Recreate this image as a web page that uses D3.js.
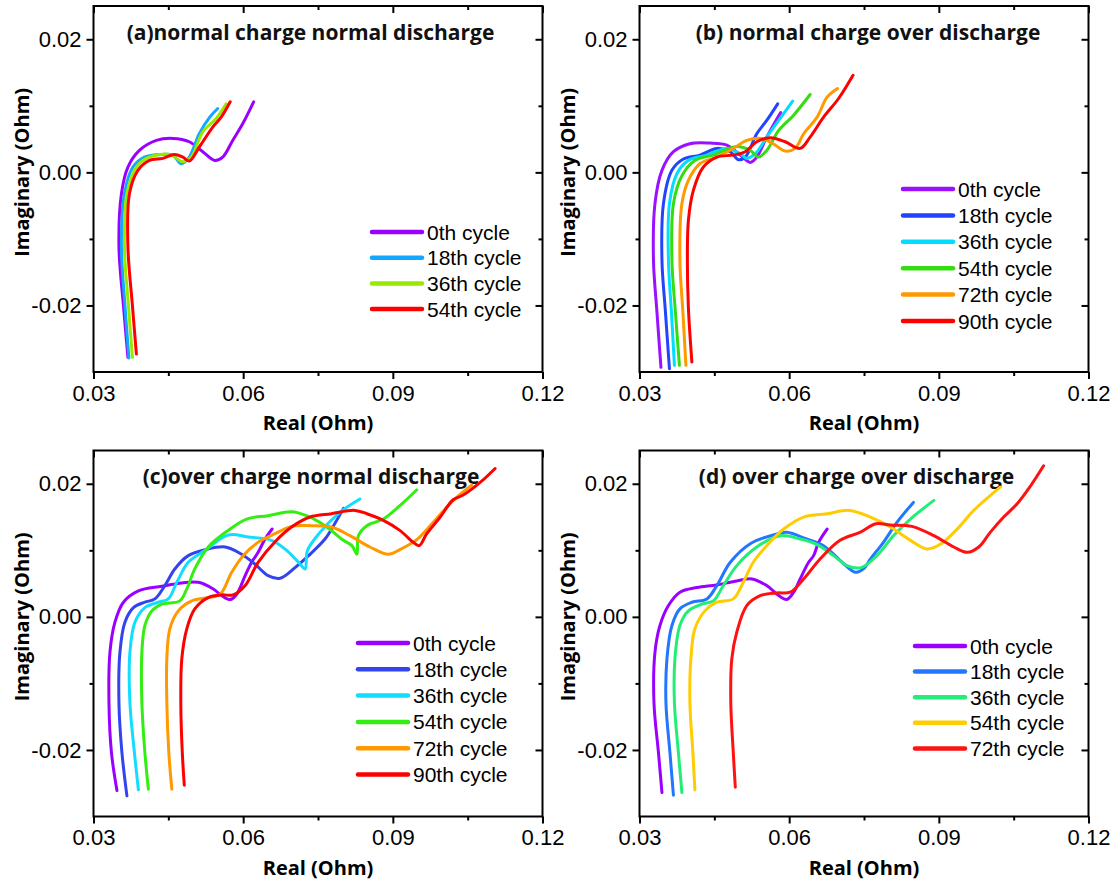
<!DOCTYPE html>
<html>
<head>
<meta charset="utf-8">
<script src="https://cdn.jsdelivr.net/npm/d3@7"></script>
<style>
  body { margin: 0; background: #fff; }
  svg { display: block; }
</style>
</head>
<body>
<div id="chartContainer"></div>
<script>
// axis ticks shared by all four panels
var xMajor = [0.03, 0.06, 0.09, 0.12];
var xMinor = [0.045, 0.075, 0.105];
var yMajor = [-0.02, 0.00, 0.02];
var yMinor = [-0.01, 0.01];
var xDomain = [0.03, 0.12];
var yDomain = [-0.03, 0.025];

// (a) normal charge normal discharge  [real, imaginary]
var aCycle0 = [[0.0369,-0.0278],[0.0360,-0.0200],[0.0351,-0.0112],[0.0356,-0.0032],[0.0369,0.0008],[0.0392,0.0033],[0.0426,0.0048],[0.0459,0.0051],[0.0492,0.0046],[0.0519,0.0031],[0.0543,0.0018],[0.0559,0.0023],[0.0579,0.0048],[0.0599,0.0073],[0.0621,0.0106]];
var aCycle18 = [[0.0371,-0.0279],[0.0363,-0.0200],[0.0356,-0.0112],[0.0362,-0.0032],[0.0379,0.0008],[0.0402,0.0023],[0.0439,0.0027],[0.0459,0.0026],[0.0476,0.0013],[0.0492,0.0023],[0.0512,0.0058],[0.0533,0.0083],[0.0549,0.0096]];
var aCycle36 = [[0.0378,-0.0278],[0.0370,-0.0200],[0.0362,-0.0112],[0.0367,-0.0032],[0.0386,0.0008],[0.0409,0.0022],[0.0452,0.0027],[0.0479,0.0016],[0.0496,0.0023],[0.0519,0.0061],[0.0546,0.0081],[0.0566,0.0103]];
var aCycle54 = [[0.0386,-0.0273],[0.0378,-0.0200],[0.0369,-0.0112],[0.0372,-0.0032],[0.0389,0.0003],[0.0412,0.0018],[0.0439,0.0021],[0.0462,0.0027],[0.0479,0.0023],[0.0492,0.0017],[0.0512,0.0038],[0.0539,0.0068],[0.0556,0.0083],[0.0574,0.0106]];

// (b) normal charge over discharge
var bCycle0 = [[0.0343,-0.0293],[0.0335,-0.0210],[0.0328,-0.0132],[0.0331,-0.0047],[0.0345,0.0003],[0.0368,0.0031],[0.0401,0.0043],[0.0441,0.0044],[0.0475,0.0041],[0.0502,0.0026],[0.0522,0.0015],[0.0535,0.0023],[0.0555,0.0053],[0.0575,0.0080],[0.0583,0.0090]];
var bCycle18 = [[0.0360,-0.0295],[0.0352,-0.0210],[0.0345,-0.0132],[0.0348,-0.0047],[0.0365,0.0003],[0.0388,0.0020],[0.0421,0.0026],[0.0455,0.0036],[0.0482,0.0031],[0.0498,0.0019],[0.0512,0.0023],[0.0535,0.0058],[0.0555,0.0078],[0.0577,0.0103]];
var bCycle36 = [[0.0370,-0.0290],[0.0364,-0.0210],[0.0358,-0.0132],[0.0360,-0.0047],[0.0375,-0.0002],[0.0398,0.0018],[0.0435,0.0026],[0.0475,0.0036],[0.0502,0.0028],[0.0515,0.0021],[0.0532,0.0028],[0.0555,0.0053],[0.0579,0.0078],[0.0607,0.0107]];
var bCycle54 = [[0.0380,-0.0290],[0.0372,-0.0210],[0.0365,-0.0132],[0.0368,-0.0047],[0.0385,-0.0005],[0.0411,0.0018],[0.0448,0.0026],[0.0495,0.0039],[0.0522,0.0033],[0.0538,0.0023],[0.0555,0.0033],[0.0579,0.0063],[0.0609,0.0086],[0.0642,0.0117]];
var bCycle72 = [[0.0393,-0.0290],[0.0387,-0.0210],[0.0381,-0.0132],[0.0385,-0.0047],[0.0398,-0.0012],[0.0421,0.0013],[0.0455,0.0023],[0.0488,0.0036],[0.0515,0.0048],[0.0545,0.0051],[0.0568,0.0043],[0.0592,0.0032],[0.0612,0.0036],[0.0629,0.0058],[0.0656,0.0083],[0.0676,0.0113],[0.0697,0.0126]];
var bCycle90 = [[0.0405,-0.0285],[0.0398,-0.0203],[0.0396,-0.0132],[0.0398,-0.0072],[0.0408,-0.0027],[0.0428,0.0008],[0.0455,0.0023],[0.0488,0.0026],[0.0512,0.0031],[0.0535,0.0046],[0.0562,0.0052],[0.0592,0.0046],[0.0622,0.0036],[0.0642,0.0053],[0.0669,0.0083],[0.0699,0.0111],[0.0728,0.0146]];

// (c) over charge normal discharge
var cCycle0 = [[0.0347,-0.0261],[0.0336,-0.0204],[0.0331,-0.0129],[0.0333,-0.0053],[0.0343,-0.0008],[0.0360,0.0022],[0.0390,0.0039],[0.0437,0.0046],[0.0477,0.0051],[0.0510,0.0052],[0.0540,0.0042],[0.0557,0.0032],[0.0574,0.0026],[0.0587,0.0034],[0.0604,0.0062],[0.0617,0.0082],[0.0630,0.0097],[0.0644,0.0117],[0.0658,0.0132]];
var cCycle18 = [[0.0367,-0.0269],[0.0357,-0.0204],[0.0351,-0.0129],[0.0353,-0.0053],[0.0363,-0.0008],[0.0380,0.0014],[0.0403,0.0022],[0.0423,0.0027],[0.0443,0.0047],[0.0463,0.0072],[0.0490,0.0092],[0.0524,0.0101],[0.0564,0.0105],[0.0597,0.0094],[0.0624,0.0079],[0.0650,0.0062],[0.0674,0.0058],[0.0704,0.0074],[0.0731,0.0092],[0.0764,0.0117],[0.0782,0.0138],[0.0801,0.0163]];
var cCycle36 = [[0.0390,-0.0260],[0.0382,-0.0204],[0.0373,-0.0129],[0.0373,-0.0053],[0.0383,-0.0008],[0.0403,0.0014],[0.0430,0.0022],[0.0450,0.0027],[0.0467,0.0052],[0.0490,0.0082],[0.0524,0.0100],[0.0570,0.0123],[0.0610,0.0120],[0.0657,0.0115],[0.0687,0.0100],[0.0711,0.0082],[0.0724,0.0072],[0.0729,0.0100],[0.0754,0.0127],[0.0794,0.0157],[0.0834,0.0177]];
var cCycle54 = [[0.0410,-0.0259],[0.0403,-0.0204],[0.0397,-0.0129],[0.0397,-0.0053],[0.0403,-0.0013],[0.0417,0.0009],[0.0437,0.0019],[0.0473,0.0024],[0.0487,0.0042],[0.0503,0.0072],[0.0530,0.0105],[0.0570,0.0130],[0.0607,0.0147],[0.0650,0.0152],[0.0697,0.0158],[0.0727,0.0152],[0.0764,0.0137],[0.0801,0.0115],[0.0818,0.0107],[0.0828,0.0094],[0.0831,0.0122],[0.0848,0.0137],[0.0881,0.0147],[0.0914,0.0167],[0.0948,0.0191]];
var cCycle72 = [[0.0457,-0.0259],[0.0451,-0.0204],[0.0447,-0.0129],[0.0447,-0.0063],[0.0453,-0.0018],[0.0470,0.0009],[0.0497,0.0024],[0.0530,0.0029],[0.0554,0.0034],[0.0577,0.0067],[0.0600,0.0092],[0.0630,0.0112],[0.0664,0.0125],[0.0697,0.0136],[0.0737,0.0137],[0.0777,0.0135],[0.0814,0.0122],[0.0854,0.0105],[0.0891,0.0094],[0.0914,0.0101],[0.0948,0.0116],[0.0981,0.0142],[0.1021,0.0175],[0.1058,0.0198]];
var cCycle90 = [[0.0482,-0.0253],[0.0478,-0.0204],[0.0475,-0.0129],[0.0477,-0.0063],[0.0487,-0.0018],[0.0503,0.0012],[0.0530,0.0029],[0.0557,0.0033],[0.0580,0.0033],[0.0604,0.0047],[0.0630,0.0082],[0.0664,0.0113],[0.0697,0.0135],[0.0734,0.0150],[0.0777,0.0155],[0.0824,0.0160],[0.0848,0.0155],[0.0881,0.0145],[0.0914,0.0130],[0.0941,0.0112],[0.0953,0.0107],[0.0968,0.0125],[0.0995,0.0150],[0.1021,0.0176],[0.1041,0.0183],[0.1075,0.0202],[0.1105,0.0223]];

// (d) over charge over discharge
var dCycle0 = [[0.0345,-0.0264],[0.0338,-0.0204],[0.0329,-0.0129],[0.0331,-0.0053],[0.0341,-0.0013],[0.0358,0.0017],[0.0381,0.0037],[0.0415,0.0044],[0.0455,0.0048],[0.0495,0.0054],[0.0525,0.0057],[0.0555,0.0047],[0.0579,0.0032],[0.0595,0.0026],[0.0609,0.0037],[0.0622,0.0057],[0.0639,0.0082],[0.0649,0.0092],[0.0659,0.0112],[0.0676,0.0132]];
var dCycle18 = [[0.0368,-0.0268],[0.0361,-0.0204],[0.0353,-0.0129],[0.0355,-0.0063],[0.0365,-0.0013],[0.0381,0.0012],[0.0405,0.0022],[0.0435,0.0027],[0.0455,0.0047],[0.0482,0.0082],[0.0522,0.0110],[0.0568,0.0123],[0.0595,0.0127],[0.0635,0.0117],[0.0669,0.0107],[0.0702,0.0085],[0.0733,0.0067],[0.0749,0.0072],[0.0763,0.0087],[0.0789,0.0112],[0.0816,0.0142],[0.0849,0.0172]];
var dCycle36 = [[0.0385,-0.0264],[0.0378,-0.0204],[0.0370,-0.0129],[0.0371,-0.0063],[0.0381,-0.0013],[0.0398,0.0009],[0.0425,0.0019],[0.0448,0.0024],[0.0468,0.0047],[0.0495,0.0077],[0.0535,0.0105],[0.0582,0.0122],[0.0622,0.0117],[0.0655,0.0109],[0.0689,0.0092],[0.0716,0.0077],[0.0744,0.0074],[0.0776,0.0092],[0.0809,0.0122],[0.0843,0.0147],[0.0890,0.0175]];
var dCycle54 = [[0.0411,-0.0260],[0.0407,-0.0204],[0.0401,-0.0129],[0.0403,-0.0063],[0.0411,-0.0018],[0.0431,0.0009],[0.0455,0.0022],[0.0488,0.0027],[0.0508,0.0052],[0.0528,0.0082],[0.0555,0.0107],[0.0589,0.0132],[0.0629,0.0150],[0.0676,0.0155],[0.0721,0.0160],[0.0763,0.0150],[0.0803,0.0135],[0.0843,0.0115],[0.0876,0.0102],[0.0903,0.0109],[0.0937,0.0132],[0.0970,0.0160],[0.1023,0.0195]];
var dCycle72 = [[0.0492,-0.0256],[0.0488,-0.0204],[0.0483,-0.0129],[0.0485,-0.0063],[0.0495,-0.0023],[0.0515,0.0017],[0.0542,0.0032],[0.0575,0.0036],[0.0602,0.0037],[0.0629,0.0057],[0.0662,0.0087],[0.0702,0.0115],[0.0742,0.0127],[0.0774,0.0140],[0.0803,0.0138],[0.0846,0.0136],[0.0890,0.0122],[0.0930,0.0105],[0.0957,0.0097],[0.0980,0.0105],[0.1003,0.0127],[0.1030,0.0150],[0.1057,0.0170],[0.1084,0.0197],[0.1110,0.0227]];

var WIDTH = 1119, HEIGHT = 881;
var PW = 449, PH = 366;

var panels = [
  { left: 93.5, top: 6, title: "(a)normal charge normal discharge", titleX: 217,
    legX: 278.5, legY: 226, legStep: 25.7,
    series: [
      { name: "0th cycle", color: "#9a00ff", data: aCycle0 },
      { name: "18th cycle", color: "#12a8ff", data: aCycle18 },
      { name: "36th cycle", color: "#99e800", data: aCycle36 },
      { name: "54th cycle", color: "#ff0000", data: aCycle54 }
    ] },
  { left: 639.5, top: 6, title: "(b) normal charge over discharge", titleX: 228.5,
    legX: 263.5, legY: 183, legStep: 26.4,
    series: [
      { name: "0th cycle", color: "#9a11ff", data: bCycle0 },
      { name: "18th cycle", color: "#2244ff", data: bCycle18 },
      { name: "36th cycle", color: "#00ddff", data: bCycle36 },
      { name: "54th cycle", color: "#33dd11", data: bCycle54 },
      { name: "72th cycle", color: "#ff9900", data: bCycle72 },
      { name: "90th cycle", color: "#ff0000", data: bCycle90 }
    ] },
  { left: 93.5, top: 450.5, title: "(c)over charge normal discharge", titleX: 217.5,
    legX: 264.5, legY: 192.5, legStep: 26.3,
    series: [
      { name: "0th cycle", color: "#9a00ff", data: cCycle0 },
      { name: "18th cycle", color: "#3344ee", data: cCycle18 },
      { name: "36th cycle", color: "#11ddff", data: cCycle36 },
      { name: "54th cycle", color: "#33ee11", data: cCycle54 },
      { name: "72th cycle", color: "#ff9900", data: cCycle72 },
      { name: "90th cycle", color: "#ff0000", data: cCycle90 }
    ] },
  { left: 639.5, top: 450.5, title: "(d) over charge over discharge", titleX: 217,
    legX: 275.5, legY: 195.5, legStep: 25.6,
    series: [
      { name: "0th cycle", color: "#9a00ff", data: dCycle0 },
      { name: "18th cycle", color: "#2277ff", data: dCycle18 },
      { name: "36th cycle", color: "#22ee77", data: dCycle36 },
      { name: "54th cycle", color: "#ffcc00", data: dCycle54 },
      { name: "72th cycle", color: "#ff1111", data: dCycle72 }
    ] }
];

var svg = d3.select("#chartContainer").append("svg")
  .attr("width", WIDTH)
  .attr("height", HEIGHT);

var fmt = function (d) { return d.toFixed(2); };

function InitPanel(p) {
  var g = svg.append("g").attr("transform", "translate(" + p.left + "," + p.top + ")");

  var x = d3.scaleLinear().domain(xDomain).range([0, PW]);
  var y = d3.scaleLinear().domain(yDomain).range([PH, 0]);

  // title first, curves may run over it
  g.append("text")
    .attr("x", p.titleX).attr("y", 33.5)
    .attr("text-anchor", "middle")
    .style("font-family", "'Open Sans', sans-serif")
    .style("font-weight", "bold")
    .style("font-size", "21px")
    .attr("fill", "#111")
    .text(p.title);

  // curves
  var lineFunc = d3.line()
    .x(function (d) { return x(d[0]); })
    .y(function (d) { return y(d[1]); })
    .curve(d3.curveCatmullRom.alpha(0.5));

  p.series.forEach(function (s) {
    g.append("path")
      .attr("d", lineFunc(s.data))
      .attr("fill", "none")
      .attr("stroke", s.color)
      .attr("stroke-width", 3)
      .attr("stroke-linejoin", "round")
      .attr("stroke-linecap", "round");
  });

  // axes: outward ticks on left/bottom, inward on top/right
  function styleAxis(sel) {
    sel.select(".domain").remove();
    sel.selectAll(".tick line").attr("stroke", "#000").attr("stroke-width", 2);
    sel.selectAll("text")
      .attr("fill", "#000")
      .style("font-family", "'Liberation Sans', Arial, sans-serif")
      .style("font-size", "22px");
  }

  g.append("g").attr("transform", "translate(0," + PH + ")")
    .call(d3.axisBottom(x).tickValues(xMajor).tickSize(7).tickPadding(6).tickFormat(fmt))
    .call(styleAxis);
  g.append("g").attr("transform", "translate(0," + PH + ")")
    .call(d3.axisBottom(x).tickValues(xMinor).tickSize(4).tickFormat(""))
    .call(styleAxis);
  g.append("g")
    .call(d3.axisLeft(y).tickValues(yMajor).tickSize(7).tickPadding(5).tickFormat(fmt))
    .call(styleAxis);
  g.append("g")
    .call(d3.axisLeft(y).tickValues(yMinor).tickSize(4).tickFormat(""))
    .call(styleAxis);
  g.append("g")
    .call(d3.axisTop(x).tickValues(xMajor).tickSize(-7).tickFormat(""))
    .call(styleAxis);
  g.append("g")
    .call(d3.axisTop(x).tickValues(xMinor).tickSize(-4).tickFormat(""))
    .call(styleAxis);
  g.append("g").attr("transform", "translate(" + PW + ",0)")
    .call(d3.axisRight(y).tickValues(yMajor).tickSize(-7).tickFormat(""))
    .call(styleAxis);
  g.append("g").attr("transform", "translate(" + PW + ",0)")
    .call(d3.axisRight(y).tickValues(yMinor).tickSize(-4).tickFormat(""))
    .call(styleAxis);

  g.append("rect")
    .attr("width", PW).attr("height", PH)
    .attr("fill", "none").attr("stroke", "#000").attr("stroke-width", 2);

  // axis titles
  g.append("text")
    .attr("x", PW / 2).attr("y", PH + 58)
    .attr("text-anchor", "middle")
    .style("font-family", "'Open Sans', sans-serif")
    .style("font-weight", "bold")
    .style("font-size", "20px")
    .text("Real (Ohm)");

  g.append("text")
    .attr("transform", "translate(-72," + y(0) + ") rotate(-90)")
    .attr("text-anchor", "middle")
    .attr("dy", "0.35em")
    .style("font-family", "'Open Sans', sans-serif")
    .style("font-weight", "bold")
    .style("font-size", "20px")
    .text("Imaginary (Ohm)");

  // legend
  var leg = g.append("g").attr("transform", "translate(" + p.legX + "," + p.legY + ")");
  p.series.forEach(function (s, i) {
    var row = leg.append("g").attr("transform", "translate(0," + (i * p.legStep) + ")");
    row.append("line")
      .attr("x1", 0).attr("x2", 50).attr("y1", 0).attr("y2", 0)
      .attr("stroke", s.color).attr("stroke-width", 4.5)
      .attr("stroke-linecap", "round");
    row.append("text")
      .attr("x", 55).attr("y", 0).attr("dy", "0.36em")
      .style("font-family", "'Liberation Sans', Arial, sans-serif")
      .style("font-size", "21px")
      .attr("fill", "#000")
      .text(s.name);
  });
}

panels.forEach(InitPanel);
</script>
</body>
</html>
